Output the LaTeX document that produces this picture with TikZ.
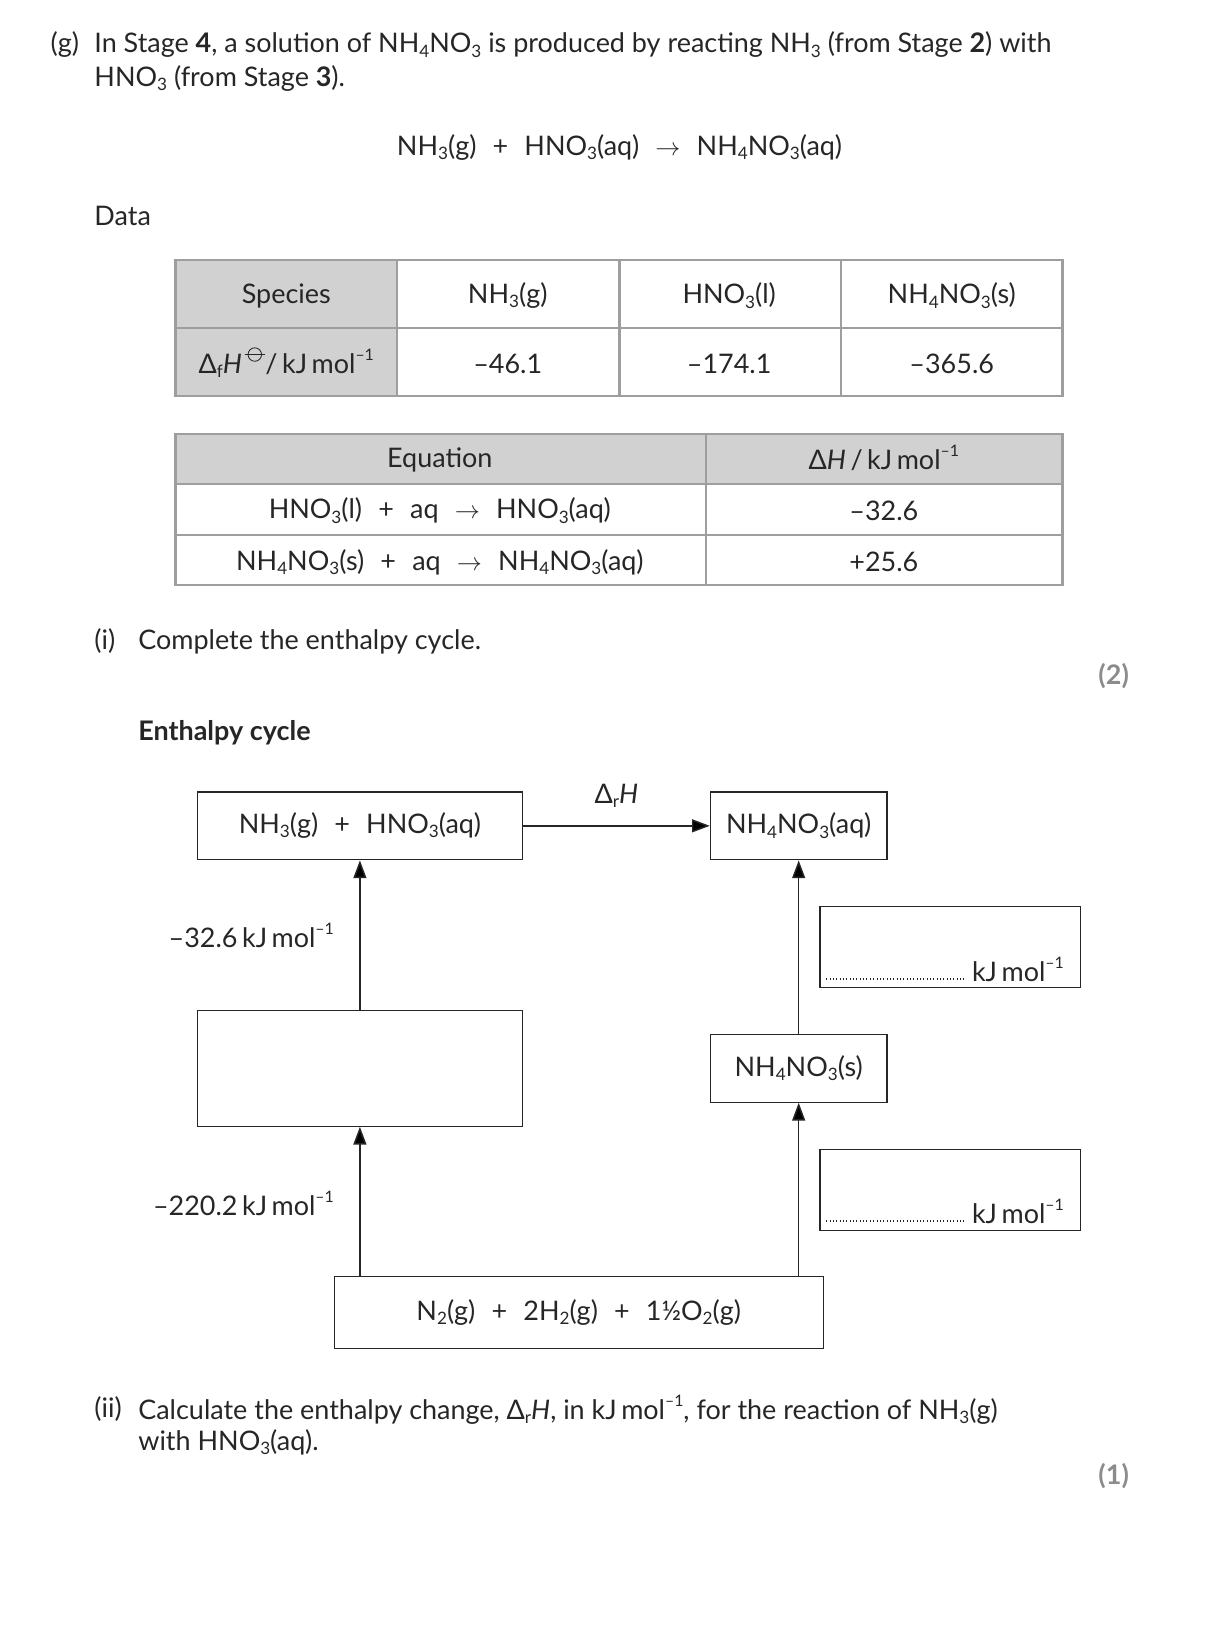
\documentclass[tikz,border=0pt]{standalone}
\usepackage{fontspec}
\setmainfont{Lato}
\usetikzlibrary{arrows.meta}
\newcommand\chsub[1]{\raisebox{-0.3ex}{\fontsize{8.2}{8}\selectfont #1}}
\newcommand\chsup[1]{\raisebox{0.95ex}{\fontsize{7.6}{8}\selectfont #1}}
\newcommand\kjmol{kJ\,mol\chsup{–1}}
\newcommand\pl{\hspace{0.6em}+\hspace{0.6em}}
\newcommand\rarr{\hspace{0.6em}$\rightarrow$\hspace{0.6em}}
\newcommand\plim{\hspace{0.08em}\raisebox{0.9ex}{\tikz[baseline=0pt,line width=0.4pt]{\draw (0,0.25em) circle (0.25em); \draw (-0.38em,0.25em)--(0.38em,0.25em);}}}
\definecolor{hdr}{gray}{0.82}
\definecolor{rule}{gray}{0.62}
\definecolor{ink}{gray}{0.15}
\definecolor{marks}{gray}{0.55}
\tikzset{
  every node/.style={font=\fontsize{12.9}{16}\selectfont, inner sep=0pt, text=ink},
  lft/.style={anchor=west},
  box/.style={draw=ink, line width=0.6pt, rectangle},
  arr/.style={draw=ink, line width=0.7pt, -{Triangle[length=8.5pt,width=6.2pt]}},
  tline/.style={draw=rule, line width=1pt},
  markst/.style={font=\fontsize{12.9}{16}\selectfont\bfseries, text=marks}
}
\begin{document}
\begin{tikzpicture}[x=0.5pt,y=-0.5pt]
\useasboundingbox (0,0) rectangle (1156,1566);
% intro
\node[lft] (g) at (48,43) {(g)};
\node[lft] (l1) at (90,43) {In Stage \textbf{4}, a solution of NH\chsub{4}NO\chsub{3} is produced by reacting NH\chsub{3} (from Stage \textbf{2}) with};
\node[lft] (l2) at (90,75) {HNO\chsub{3} (from Stage \textbf{3}).};
\node (eq) at (593,141) {NH\chsub{3}(g)\pl HNO\chsub{3}(aq)\rarr NH\chsub{4}NO\chsub{3}(aq)};
\node[lft] (data) at (90,207) {Data};
% table 1
\fill[hdr] (168,249) rectangle (380,379);
\draw[tline] (168,249) rectangle (1017,379);
\draw[tline] (168,314) -- (1017,314);
\draw[tline] (380,249) -- (380,379);
\draw[tline] (593,249) -- (593,379);
\draw[tline] (805,249) -- (805,379);
\node (t11) at (274,283) {Species};
\node (t12) at (486,283) {NH\chsub{3}(g)};
\node (t13) at (698,283) {HNO\chsub{3}(l)};
\node (t14) at (911,283) {NH\chsub{4}NO\chsub{3}(s)};
\node (t21) at (274,347) {Δ\chsub{f}\textit{H}\plim/\,\kjmol};
\node (t22) at (486,348) {–46.1};
\node (t23) at (698,348) {–174.1};
\node (t24) at (911,348) {–365.6};
% table 2
\fill[hdr] (168,415) rectangle (1017,463);
\draw[tline] (168,415) rectangle (1017,560);
\draw[tline] (168,463) -- (1017,463);
\draw[tline] (168,512) -- (1017,512);
\draw[tline] (676,415) -- (676,560);
\node (u11) at (421,440) {Equation};
\node (u12) at (846,438) {Δ\textit{H}\,/\,\kjmol};
\node (u21) at (421,489) {HNO\chsub{3}(l)\pl aq\rarr HNO\chsub{3}(aq)};
\node (u22) at (846,489) {–32.6};
\node (u31) at (421,538) {NH\chsub{4}NO\chsub{3}(s)\pl aq\rarr NH\chsub{4}NO\chsub{3}(aq)};
\node (u32) at (846,538) {+25.6};
% part (i)
\node[lft] (pi) at (90,614) {(i)};
\node[lft] (pit) at (132,614) {Complete the enthalpy cycle.};
\node[markst] (m2) at (1066,647) {(2)};
\node[lft, font=\fontsize{12.9}{16}\selectfont\bfseries] (ec) at (132,701) {Enthalpy cycle};
% cycle
\node[box, minimum width=155.5pt, minimum height=32.5pt] (A) at (344.5,790.5) {NH\chsub{3}(g)\pl HNO\chsub{3}(aq)};
\node[box, minimum width=84.5pt, minimum height=32.5pt] (B) at (764.5,790.5) {NH\chsub{4}NO\chsub{3}(aq)};
\node[box, minimum width=155.5pt, minimum height=55.5pt] (C) at (344.5,1022.5) {};
\node[box, minimum width=84.5pt, minimum height=32.5pt] (D) at (764.5,1022.5) {NH\chsub{4}NO\chsub{3}(s)};
\node[box, minimum width=234pt, minimum height=34.5pt] (E) at (554,1256.5) {N\chsub{2}(g)\pl 2H\chsub{2}(g)\pl 1½O\chsub{2}(g)};
\node[box, minimum width=124.5pt, minimum height=38.5pt] (K1) at (909.5,906.5) {};
\node[box, minimum width=124.5pt, minimum height=38.5pt] (K2) at (909.5,1139) {};
\draw[arr] (A.east) -- (B.west);
\draw[arr] (C.north) -- (A.south);
\draw[arr] (D.north) -- (B.south);
\draw[arr] (E.north -| C.south) -- (C.south);
\draw[arr] (E.north -| D.south) -- (D.south);
\node (drh) at (590,762) {Δ\chsub{r}\textit{H}};
\node[anchor=east] (v1) at (320,895) {–32.6\,\kjmol};
\node[anchor=east] (v2) at (320,1152) {–220.2\,\kjmol};
\draw[ink, line width=0.8pt, dash pattern=on 0.4pt off 1.2pt] (791,937) -- (923,937);
\node[anchor=west] (k1) at (930,928) {\kjmol};
\draw[ink, line width=0.8pt, dash pattern=on 0.4pt off 1.2pt] (791,1169) -- (923,1169);
\node[anchor=west] (k2) at (930,1160) {\kjmol};
% part (ii)
\node[lft] (pii) at (90,1349) {(ii)};
\node[lft] (pii1) at (132,1349) {Calculate the enthalpy change, Δ\chsub{r}\textit{H}, in \kjmol, for the reaction of NH\chsub{3}(g)};
\node[lft] (pii2) at (132,1381) {with HNO\chsub{3}(aq).};
\node[markst] (m1) at (1066,1413) {(1)};
\end{tikzpicture}
\end{document}
